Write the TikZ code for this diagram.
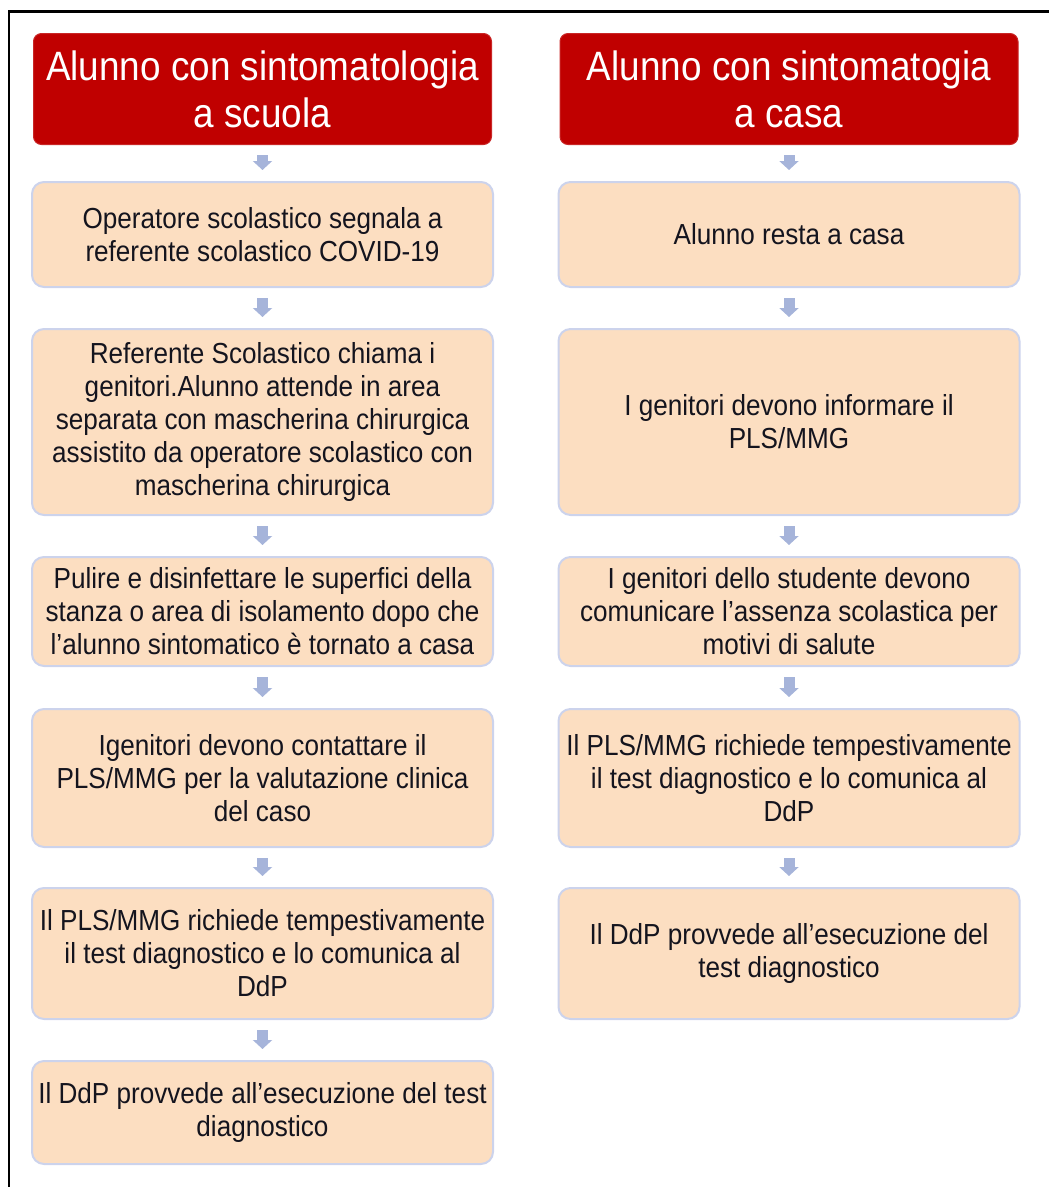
\documentclass[tikz,border=0pt]{standalone}
\usepackage{fontspec}
\setmainfont{Liberation Sans}[FakeStretch=0.9]
\usepackage{tikz}
\usetikzlibrary{arrows.meta,positioning}
\usepackage{xcolor}
\definecolor{ssred}{RGB}{192,0,0}
\definecolor{sspeach}{RGB}{252,222,193}
\definecolor{ssborder}{RGB}{204,211,236}
\definecolor{ssarrow}{RGB}{166,180,218}
\definecolor{sstext}{RGB}{20,20,30}
\tikzstyle{headbox} = [rectangle, rounded corners=8pt, minimum width=458pt, minimum height=111pt, align=center, draw=ssred!85!white, fill=ssred, line width=1pt, text=white, font=\fontsize{41}{47}\selectfont]
\tikzstyle{stepbox} = [rectangle, rounded corners=12pt, minimum width=461pt, align=center, draw=ssborder, fill=sspeach, line width=2pt, text=sstext, font=\fontsize{29}{33}\selectfont]
\tikzstyle{flow} = [line width=11pt, -{Triangle[width=19pt,length=9pt]}, color=ssarrow, shorten <=10pt, shorten >=11pt]

\begin{document}
\begin{tikzpicture}[x=1pt, y=-1pt]
\useasboundingbox (0,0) rectangle (1049,1187);
\draw[line width=2.5pt] (8.75,11.5) rectangle (1070,1210);

% School side
\node[headbox] (h_scuola) at (262.5,89) {Alunno con sintomatologia\\a scuola};
\node[stepbox, minimum height=105pt] (s_segnala) at (262.5,234.5) {Operatore scolastico segnala a\\referente scolastico COVID-19};
\node[stepbox, minimum height=186pt] (s_chiama) at (262.5,422) {Referente Scolastico chiama i\\genitori.Alunno attende in area\\separata con mascherina chirurgica\\assistito da operatore scolastico con\\mascherina chirurgica};
\node[stepbox, minimum height=109pt] (s_pulire) at (262.5,611.5) {Pulire e disinfettare le superfici della\\stanza o area di isolamento dopo che\\l’alunno sintomatico è tornato a casa};
\node[stepbox, minimum height=138pt] (s_contatto) at (262.5,778) {Igenitori devono contattare il\\PLS/MMG per la valutazione clinica\\del caso};
\node[stepbox, minimum height=131pt] (s_test) at (262.5,953.5) {Il PLS/MMG richiede tempestivamente\\il test diagnostico e lo comunica al\\DdP};
\node[stepbox, minimum height=103pt] (s_ddp) at (262.5,1112.5) {Il DdP provvede all’esecuzione del test\\diagnostico};

\draw[flow] (h_scuola) -- (s_segnala);
\draw[flow] (s_segnala) -- (s_chiama);
\draw[flow] (s_chiama) -- (s_pulire);
\draw[flow] (s_pulire) -- (s_contatto);
\draw[flow] (s_contatto) -- (s_test);
\draw[flow] (s_test) -- (s_ddp);

% Home side
\node[headbox] (h_casa) at (789,89) {Alunno con sintomatogia\\a casa};
\node[stepbox, minimum height=105pt] (c_resta) at (789,234.5) {Alunno resta a casa};
\node[stepbox, minimum height=186pt] (c_informa) at (789,422) {I genitori devono informare il\\PLS/MMG};
\node[stepbox, minimum height=109pt] (c_assenza) at (789,611.5) {I genitori dello studente devono\\comunicare l’assenza scolastica per\\motivi di salute};
\node[stepbox, minimum height=138pt] (c_test) at (789,778) {Il PLS/MMG richiede tempestivamente\\il test diagnostico e lo comunica al\\DdP};
\node[stepbox, minimum height=131pt] (c_ddp) at (789,953.5) {Il DdP provvede all’esecuzione del\\test diagnostico};

\draw[flow] (h_casa) -- (c_resta);
\draw[flow] (c_resta) -- (c_informa);
\draw[flow] (c_informa) -- (c_assenza);
\draw[flow] (c_assenza) -- (c_test);
\draw[flow] (c_test) -- (c_ddp);
\end{tikzpicture}
\end{document}
